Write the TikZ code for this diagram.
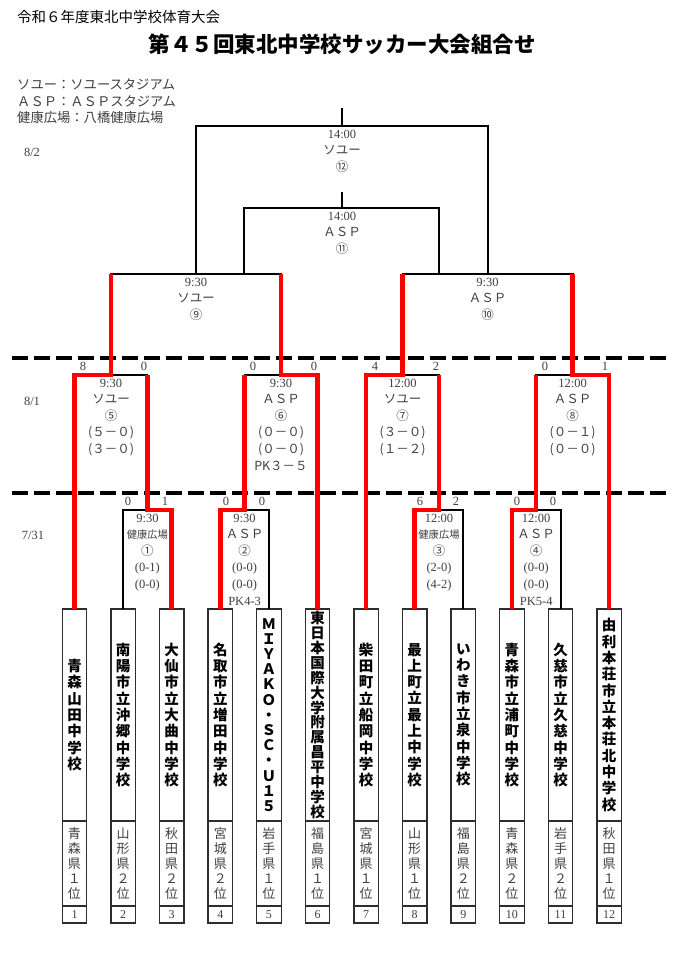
\documentclass[tikz,border=0pt]{standalone}
\usepackage{fontspec}
\setmainfont{Liberation Serif}
\newfontfamily\jp{Noto Sans CJK JP}
\usepackage{xcolor}
\usepackage{tikz}
\definecolor{winnerred}{RGB}{255,0,0}
\definecolor{infogray}{RGB}{64,64,64}
\definecolor{boxgray}{RGB}{45,45,45}

\makeatletter
\def\tatestack#1{\expandafter\tate@stack\expandafter{#1}}
\def\tate@stack#1{\@tfor\tatechar:=#1\do{\tatechar\endgraf}}
\makeatother

\begin{document}
\begin{tikzpicture}[x=1pt,y=-1pt,
  bracketline/.style={draw=black,line width=2pt},
  winnerline/.style={draw=winnerred,line width=4.5pt},
  dayline/.style={draw=black,line width=3.5pt,dash pattern=on 16pt off 6pt},
  namebox/.style={draw=boxgray,line width=1.3pt,anchor=north,outer sep=0pt,inner sep=0pt,minimum width=24.5pt,text width=16pt,align=center},
  numbox/.style={draw=boxgray,line width=1.3pt,anchor=north,outer sep=0pt,inner sep=0pt,minimum width=24.5pt,minimum height=17pt,text=infogray,font=\fontsize{12}{14}\selectfont},
  matchinfo/.style={anchor=north,align=center,inner sep=0pt,text=infogray,font=\fontsize{12.5}{16.6}\selectfont},
  score/.style={inner sep=0pt,text=infogray,font=\fontsize{12.5}{14}\selectfont},
  day/.style={inner sep=0pt,text=infogray,font=\fontsize{12.5}{14}\selectfont}]
% Draw the page
\fill[white] (0,0) rectangle (678,956);
\useasboundingbox (0,0) rectangle (678,956);
% Headings
\node[anchor=west,inner sep=0pt,font=\jp\fontsize{14.5}{16}\selectfont] (meet) at (17,17) {令和６年度東北中学校体育大会};
\node[inner sep=0pt,font=\jp\bfseries\fontsize{21.5}{24}\selectfont] (title) at (342,44) {第４５回東北中学校サッカー大会組合せ};
% Venues
\node[anchor=west,inner sep=0pt,text=infogray,font=\jp\fontsize{13.3}{15}\selectfont] (venue1) at (17,84) {ソユー：ソユースタジアム};
\node[anchor=west,inner sep=0pt,text=infogray,font=\jp\fontsize{13.3}{15}\selectfont] (venue2) at (17,101) {ＡＳＰ：ＡＳＰスタジアム};
\node[anchor=west,inner sep=0pt,text=infogray,font=\jp\fontsize{13.3}{15}\selectfont] (venue3) at (17,117) {健康広場：八橋健康広場};
% Draw the day separators
\draw[dayline] (12,358) -- (668,358);
\draw[dayline] (12,493) -- (668,493);
\node[day] (day82) at (32,152) {8/2};
\node[day] (day81) at (32,401) {8/1};
\node[day] (day731) at (33,535) {7/31};
% Teams
\foreach \i/\nm/\pf/\ls in {1/青森山田中学校/青森県１位/16.3, 2/南陽市立沖郷中学校/山形県２位/16.3, 3/大仙市立大曲中学校/秋田県２位/16.3, 4/名取市立増田中学校/宮城県２位/16.3, 5/ＭＩＹＡＫＯ・ＳＣ・Ｕ１５/岩手県１位/15.2, 6/東日本国際大学附属昌平中学校/福島県１位/14.9, 7/柴田町立船岡中学校/宮城県１位/16.3, 8/最上町立最上中学校/山形県１位/16.3, 9/いわき市立泉中学校/福島県２位/16.3, 10/青森市立浦町中学校/青森県２位/16.3, 11/久慈市立久慈中学校/岩手県２位/16.3, 12/由利本荘市立本荘北中学校/秋田県１位/16.3}{
  \pgfmathsetmacro\tx{74.5+48.6*(\i-1)}
  \node[namebox,minimum height=212pt] (t\i) at (\tx,609) {\jp\bfseries\fontsize{14.5}{\ls}\selectfont\tatestack{\nm}};
  \node[namebox,minimum height=85pt,text=infogray] (p\i) at (t\i.south) {\jp\fontsize{13}{15}\selectfont\tatestack{\pf}};
  \node[numbox] (n\i) at (p\i.south) {\i};
}
% Match points
\coordinate (m1) at (147.4,510);
\coordinate (m2) at (244.6,510);
\coordinate (m3) at (439,510);
\coordinate (m4) at (536.2,510);
\coordinate (m5) at (111,375);
\coordinate (m6) at (281,375);
\coordinate (m7) at (402.5,375);
\coordinate (m8) at (572.6,375);
\coordinate (m9) at (196,274);
\coordinate (m10) at (487.6,274);
\coordinate (m11) at (342,208);
\coordinate (m12) at (342,126);
\coordinate (m11a) at (244,274);
\coordinate (m11b) at (439,274);
% Draw the bracket
\draw[bracketline] (t2.north) |- (m1) -| (t3.north);
\draw[bracketline] (t4.north) |- (m2) -| (t5.north);
\draw[bracketline] (t8.north) |- (m3) -| (t9.north);
\draw[bracketline] (t10.north) |- (m4) -| (t11.north);
\draw[bracketline] (t1.north) |- (m5) -| (m1);
\draw[bracketline] (m2) |- (m6) -| (t6.north);
\draw[bracketline] (t7.north) |- (m7) -| (m3);
\draw[bracketline] (m4) |- (m8) -| (t12.north);
\draw[bracketline] (m5) |- (m9) -| (m6);
\draw[bracketline] (m7) |- (m10) -| (m8);
\draw[bracketline] (m11a) |- (m11) -| (m11b);
\draw[bracketline] (m9) |- (m12) -| (m10);
\draw[bracketline] (m11) -- ++(0,-16);
\draw[bracketline] (m12) -- ++(0,-18);
% Draw the winners
\draw[winnerline] (t1.north) |- (m5) -- (m9 -| m5);
\draw[winnerline] (t3.north) |- (m1) -- (m5 -| m1);
\draw[winnerline] (t4.north) |- (m2) -- (m6 -| m2);
\draw[winnerline] (t6.north) |- (m6) -- (m9 -| m6);
\draw[winnerline] (t7.north) |- (m7) -- (m10 -| m7);
\draw[winnerline] (t8.north) |- (m3) -- (m7 -| m3);
\draw[winnerline] (t10.north) |- (m4) -- (m8 -| m4);
\draw[winnerline] (t12.north) |- (m8) -- (m10 -| m8);
% Match labels
\node[matchinfo] (info12) at (342,129.5) {14:00\\{\jp ソユー}\\{\jp ⑫}};
\node[matchinfo] (info11) at (342,211.5) {14:00\\{\jp ＡＳＰ}\\{\jp ⑪}};
\node[matchinfo] (info9) at (196,277.5) {9:30\\{\jp ソユー}\\{\jp ⑨}};
\node[matchinfo] (info10) at (487.6,277.5) {9:30\\{\jp ＡＳＰ}\\{\jp ⑩}};
\node[matchinfo] (info5) at (111,378.5) {9:30\\{\jp ソユー}\\{\jp ⑤}\\{\jp (５－０)}\\{\jp (３－０)}};
\node[matchinfo] (info6) at (281,378.5) {9:30\\{\jp ＡＳＰ}\\{\jp ⑥}\\{\jp (０－０)}\\{\jp (０－０)}\\{\jp PK３－５}};
\node[matchinfo] (info7) at (402.5,378.5) {12:00\\{\jp ソユー}\\{\jp ⑦}\\{\jp (３－０)}\\{\jp (１－２)}};
\node[matchinfo] (info8) at (572.6,378.5) {12:00\\{\jp ＡＳＰ}\\{\jp ⑧}\\{\jp (０－１)}\\{\jp (０－０)}};
\node[matchinfo] (info1) at (147.4,513.5) {9:30\\{\jp\fontsize{10.3}{16.6}\selectfont 健康広場}\\{\jp ①}\\(0-1)\\(0-0)};
\node[matchinfo] (info2) at (244.6,513.5) {9:30\\{\jp ＡＳＰ}\\{\jp ②}\\(0-0)\\(0-0)\\PK4-3};
\node[matchinfo] (info3) at (439,513.5) {12:00\\{\jp\fontsize{10.3}{16.6}\selectfont 健康広場}\\{\jp ③}\\(2-0)\\(4-2)};
\node[matchinfo] (info4) at (536.2,513.5) {12:00\\{\jp ＡＳＰ}\\{\jp ④}\\(0-0)\\(0-0)\\PK5-4};
% Scores
\node[score] (s5a) at (83,366) {8};
\node[score] (s5b) at (144,366) {0};
\node[score] (s6a) at (253,366) {0};
\node[score] (s6b) at (314,366) {0};
\node[score] (s7a) at (375,366) {4};
\node[score] (s7b) at (436,366) {2};
\node[score] (s8a) at (545,366) {0};
\node[score] (s8b) at (605,366) {1};
\node[score] (s1a) at (128,501) {0};
\node[score] (s1b) at (165,501) {1};
\node[score] (s2a) at (226,501) {0};
\node[score] (s2b) at (262,501) {0};
\node[score] (s3a) at (420,501) {6};
\node[score] (s3b) at (456,501) {2};
\node[score] (s4a) at (517,501) {0};
\node[score] (s4b) at (553,501) {0};
\end{tikzpicture}
\end{document}
